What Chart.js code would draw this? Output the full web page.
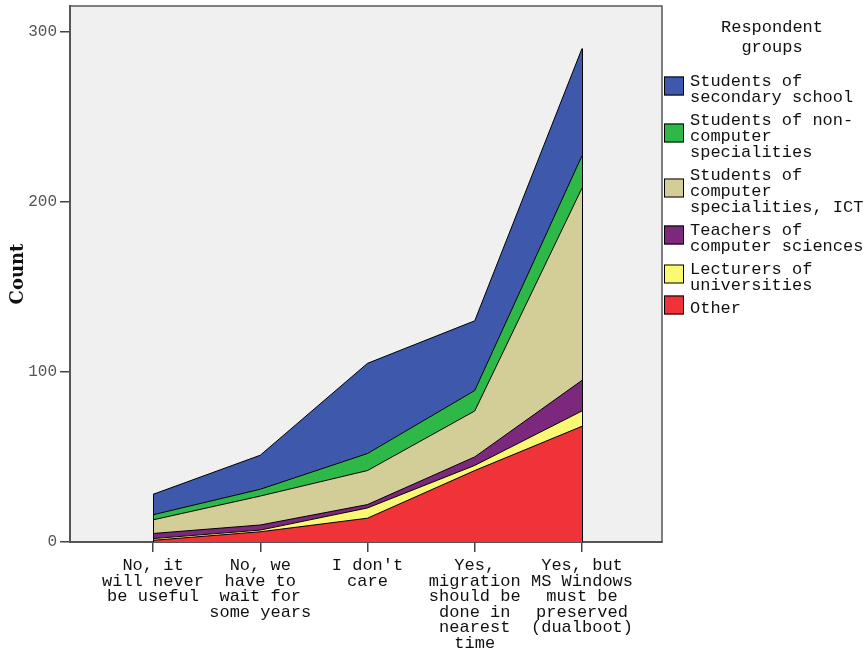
<!DOCTYPE html>
<html>
<head>
<meta charset="utf-8">
<script src="https://cdn.jsdelivr.net/npm/chart.js@4/dist/chart.umd.min.js"></script>
<style>
  body { margin: 0; background: #fff; }
</style>
</head>
<body>
<canvas id="areaChart" width="866" height="650"></canvas>
<script>
// categories (x axis), wrapped as in the picture
var categories = [
    ['No, it', 'will never', 'be useful'],
    ['No, we', 'have to', 'wait for', 'some years'],
    ["I don't", 'care'],
    ['Yes,', 'migration', 'should be', 'done in', 'nearest', 'time'],
    ['Yes, but', 'MS Windows', 'must be', 'preserved', '(dualboot)']
];

// series, bottom of the stack first
var other     = [1, 6, 14, 42, 68];
var lecturers = [1, 1, 6, 3, 9];
var teachers  = [3, 3, 2, 5, 18];
var ict       = [8, 17, 20, 27, 113];
var noncomp   = [3, 4, 10, 12, 19];
var secondary = [12, 20, 53, 41, 63];

var yTicks = [0, 100, 200, 300];

var seriesNames = ['Other', 'Lecturers of universities', 'Teachers of computer sciences',
    'Students of computer specialities, ICT', 'Students of non-computer specialities',
    'Students of secondary school'];
var seriesWrapped = [
    ['Other'],
    ['Lecturers of', 'universities'],
    ['Teachers of', 'computer sciences'],
    ['Students of', 'computer', 'specialities, ICT'],
    ['Students of non-', 'computer', 'specialities'],
    ['Students of', 'secondary school']
];
var seriesColors = ['#ef3338', '#fbf873', '#7c287d', '#d3ce97', '#2eb848', '#3e58ac'];
var seriesData = [other, lecturers, teachers, ict, noncomp, secondary];

var mono = 'Liberation Mono, Courier New, monospace';

function toPoints(arr) {
    return arr.map(function (v, i) { return { x: i, y: v }; });
}

// plot background + frame
var framePlugin = {
    id: 'frame',
    beforeDraw: function (chart) {
        var a = chart.chartArea, c = chart.ctx;
        c.save();
        c.fillStyle = '#f0f0f0';
        c.fillRect(a.left, a.top, a.right - a.left, a.bottom - a.top);
        c.strokeStyle = '#555';
        c.lineWidth = 1.5;
        c.strokeRect(a.left, a.top, a.right - a.left, a.bottom - a.top);
        c.restore();
    },
    afterDatasetsDraw: function (chart) {
        // vertical edges of the stacked area at the first and last category
        var c = chart.ctx;
        var xs = chart.scales.x, ys = chart.scales.y;
        var topMeta = chart.getDatasetMeta(chart.data.datasets.length - 1);
        c.save();
        c.strokeStyle = '#000';
        c.lineWidth = 1;
        [0, categories.length - 1].forEach(function (i) {
            var x = Math.round(xs.getPixelForValue(i)) + 0.5;
            c.beginPath();
            c.moveTo(x, ys.getPixelForValue(0));
            c.lineTo(x, topMeta.data[i].y);
            c.stroke();
        });
        c.restore();
    }
};

// legend drawn on the right, top series first
var legendPlugin = {
    id: 'sideLegend',
    afterDraw: function (chart) {
        var c = chart.ctx;
        c.save();
        c.fillStyle = '#111';
        c.font = '17px ' + mono;
        c.textAlign = 'center';
        c.textBaseline = 'middle';
        c.fillText('Respondent', 772, 27);
        c.fillText('groups', 772, 47);

        c.textAlign = 'left';
        var y = 81;
        for (var k = seriesNames.length - 1; k >= 0; k--) {
            var lines = seriesWrapped[k];
            var mid = y + (lines.length - 1) * 8 - 3;
            c.fillStyle = seriesColors[k];
            c.fillRect(664, mid - 9.5, 20, 19);
            c.strokeStyle = '#000';
            c.lineWidth = 1;
            c.strokeRect(664.5, mid - 9, 19, 18);
            c.fillStyle = '#111';
            lines.forEach(function (t, j) {
                c.fillText(t, 690, y + j * 16);
            });
            y += lines.length * 16 + 7;
        }
        c.restore();
    }
};

var datasets = seriesData.map(function (arr, k) {
    return {
        label: seriesNames[k],
        data: toPoints(arr),
        backgroundColor: seriesColors[k],
        borderColor: '#000',
        borderWidth: 1,
        fill: k === 0 ? 'origin' : '-1',
        pointRadius: 0,
        tension: 0
    };
});

var ctx = document.getElementById('areaChart').getContext('2d');
var myChart = new Chart(ctx, {
    type: 'line',
    data: { datasets: datasets },
    options: {
        responsive: false,
        animation: false,
        layout: { padding: { top: 6, right: 204, left: 0, bottom: 0 } },
        plugins: {
            legend: { display: false },
            tooltip: { enabled: false }
        },
        scales: {
            x: {
                type: 'linear',
                min: -0.774,
                max: 4.746,
                afterBuildTicks: function (s) {
                    s.ticks = categories.map(function (_, i) { return { value: i }; });
                },
                afterFit: function (s) {
                    s.height = 108;
                    s.paddingLeft = 0;
                    s.paddingRight = 0;
                },
                ticks: {
                    callback: function (v) { return categories[v]; },
                    autoSkip: false,
                    maxRotation: 0,
                    color: '#111',
                    padding: 6,
                    font: { family: mono, size: 17, lineHeight: '15.5px' }
                },
                grid: { drawOnChartArea: false, tickLength: 10, color: '#444', lineWidth: 1.5 },
                border: { display: true, color: '#555', width: 2 }
            },
            y: {
                stacked: true,
                min: 0,
                max: 315,
                afterBuildTicks: function (s) {
                    s.ticks = yTicks.map(function (v) { return { value: v }; });
                },
                afterFit: function (s) {
                    s.width = 70;
                    s.paddingTop = 0;
                    s.paddingBottom = 0;
                },
                ticks: {
                    color: '#555',
                    padding: 3,
                    font: { family: mono, size: 16 }
                },
                grid: { drawOnChartArea: false, tickLength: 10, color: '#444', lineWidth: 1.5 },
                border: { display: true, color: '#555', width: 2 },
                title: {
                    display: true,
                    text: 'Count',
                    color: '#111',
                    padding: { top: 8, bottom: 0 },
                    font: { family: 'DejaVu Serif', weight: 'bold', size: 18 }
                }
            }
        }
    },
    plugins: [framePlugin, legendPlugin]
});
</script>
</body>
</html>
